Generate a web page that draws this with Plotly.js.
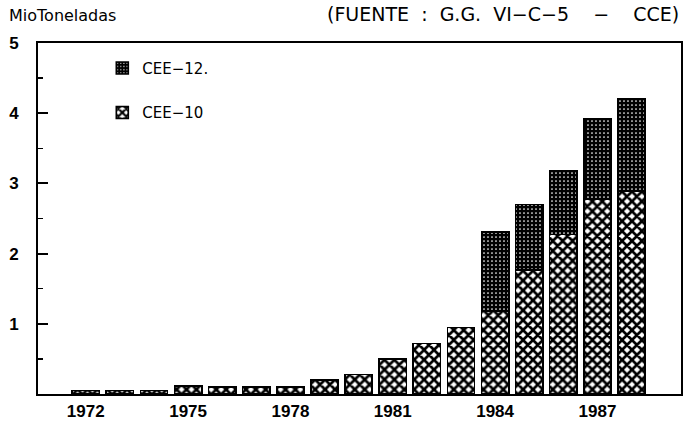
<!DOCTYPE html>
<html>
<head>
<meta charset="utf-8">
<script src="https://cdn.plot.ly/plotly-3.0.1.min.js"></script>
<style>
html,body{margin:0;padding:0;background:#fff;}
#chart{width:683px;height:427px;}
</style>
</head>
<body>
<div id="chart"></div>
<script>
// Data (Mio toneladas)
const years = [1972,1973,1974,1975,1976,1977,1978,1979,1980,1981,1982,1983,1984,1985,1986,1987,1988];
const cee10 = [0.05,0.05,0.05,0.11,0.10,0.10,0.10,0.20,0.28,0.50,0.72,0.95,1.18,1.77,2.27,2.78,2.89];
const cee12 = [0,0,0,0,0,0,0,0,0,0,0,0,1.13,0.93,0.91,1.14,1.32];
const xTickVals = [1972,1975,1978,1981,1984,1987];
const xTickText = ["1972","1975","1978","1981","1984","1987"];
const yTickVals = [1,2,3,4,5];
const yTickText = ["1","2","3","4","5"];

const FONT = "Liberation Sans, Arial, sans-serif";
const FONT2 = "DejaVu Sans, sans-serif";
const S = "\u00a0";

const traces = [
  {
    type: "bar",
    name: "CEE\u221210",
    x: years,
    y: cee10,
    width: 0.8,
    legendgroup: "a",
    legendrank: 2,
    marker: {
      color: "#ffffff",
      line: {color: "#000000", width: 1.6},
      pattern: {shape: "x", fgcolor: "#000000", bgcolor: "#ffffff", size: 7, solidity: 0.62, fillmode: "replace"}
    },
    hoverinfo: "x+y"
  },
  {
    type: "bar",
    name: "CEE\u221212.",
    x: years,
    y: cee12,
    width: 0.8,
    legendgroup: "b",
    legendrank: 1,
    marker: {
      color: "#000000",
      line: {color: "#000000", width: 1.6},
      pattern: {shape: ".", fgcolor: "#ffffff", bgcolor: "#000000", size: 4, solidity: 0.15, fillmode: "replace"}
    },
    hoverinfo: "x+y"
  }
];

const layout = {
  width: 683,
  height: 427,
  margin: {l: 38, r: 2, t: 43, b: 33, pad: 0},
  paper_bgcolor: "#ffffff",
  plot_bgcolor: "#ffffff",
  barmode: "stack",
  showlegend: true,
  font: {family: FONT, color: "#000000"},
  legend: {
    x: 0.1, y: 0.975, xanchor: "left", yanchor: "top",
    traceorder: "grouped",
    tracegroupgap: 22,
    font: {size: 15, family: FONT2, color: "#000"},
    bgcolor: "rgba(0,0,0,0)",
    itemwidth: 30
  },
  xaxis: {
    range: [1970.6, 1989.45],
    tickvals: xTickVals,
    ticktext: xTickText,
    ticks: "",
    showgrid: false,
    zeroline: false,
    showline: true,
    linecolor: "#000000",
    linewidth: 2,
    mirror: true,
    tickfont: {size: 17, family: FONT, color: "#000", weight: "bold"},
    ticklabelstandoff: 1
  },
  yaxis: {
    range: [0, 5],
    tickvals: yTickVals,
    ticktext: yTickText,
    ticks: "inside",
    ticklen: 10,
    tickwidth: 2,
    tickcolor: "#000",
    minor: {dtick: 0.5, ticks: "inside", ticklen: 5, tickwidth: 1.5, tickcolor: "#000", showgrid: false},
    showgrid: false,
    zeroline: false,
    showline: true,
    linecolor: "#000000",
    linewidth: 2,
    mirror: true,
    tickfont: {size: 17, family: FONT, color: "#000", weight: "bold"},
    ticklabelstandoff: 14
  },
  annotations: [
    {text: "MioToneladas", xref: "paper", yref: "paper", x: -0.048, y: 1.0, xanchor: "left", yanchor: "bottom",
     yshift: 16, showarrow: false, font: {size: 16, family: FONT2, color: "#000"}},
    {text: "(FUENTE" + S+S + ":" + S+S + "G.G." + S+S + "VI\u2212C\u22125" + S+S+S+S + "\u2212" + S+S+S+S + "CCE)",
     xref: "paper", yref: "paper", x: 1.0, y: 1.0, xanchor: "right", yanchor: "bottom",
     yshift: 16, showarrow: false, font: {size: 19, family: FONT2, color: "#000"}}
  ]
};

Plotly.newPlot("chart", traces, layout, {displayModeBar: false, staticPlot: true});
</script>
</body>
</html>
